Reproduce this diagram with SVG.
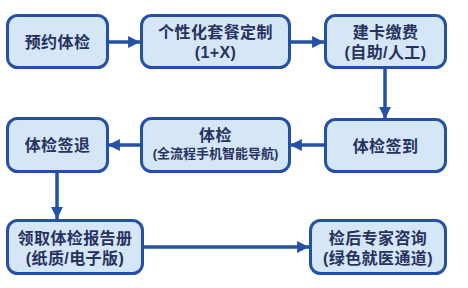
<svg xmlns="http://www.w3.org/2000/svg" width="468" height="288" viewBox="0 0 468 288">
<style>
.box{fill:#d5e6f6;stroke:#2450a6;stroke-width:3}
.t{font-family:"Liberation Sans","Noto Sans CJK SC",sans-serif;font-weight:bold;fill:#27325f;text-anchor:middle;dominant-baseline:central}
.l{font-size:16px;letter-spacing:0.4px}
.s{font-size:13px}
.c{stroke:#2450a6;stroke-width:3.5;fill:none}
</style>
<defs>
<marker id="ah" viewBox="0 0 10 10" refX="10" refY="5" markerWidth="3.4" markerHeight="3.4" orient="auto" markerUnits="strokeWidth">
<path d="M0,0 L10,5 L0,10 z" fill="#2450a6"/>
</marker>
</defs>
<rect width="468" height="288" fill="#ffffff"/>
<g id="connectors">
<line class="c" x1="108" y1="42" x2="140" y2="42" marker-end="url(#ah)"/>
<line class="c" x1="290" y1="42" x2="324" y2="42" marker-end="url(#ah)"/>
<line class="c" x1="385" y1="68" x2="385" y2="119" marker-end="url(#ah)"/>
<line class="c" x1="324" y1="145" x2="290" y2="145" marker-end="url(#ah)"/>
<line class="c" x1="141" y1="145" x2="108" y2="145" marker-end="url(#ah)"/>
<line class="c" x1="57" y1="172" x2="57" y2="219" marker-end="url(#ah)"/>
<line class="c" x1="143" y1="247" x2="309" y2="247" marker-end="url(#ah)"/>
</g>
<g id="n1">
<rect class="box" x="7.5" y="15.5" width="100" height="52" rx="10"/>
<text class="t l" x="57.5" y="42">预约体检</text>
</g>
<g id="n2">
<rect class="box" x="141.5" y="15.5" width="148" height="52" rx="10"/>
<text class="t l" x="215.5" y="32">个性化套餐定制</text>
<text class="t l" x="215.5" y="52">(1+X)</text>
</g>
<g id="n3">
<rect class="box" x="325.5" y="15.5" width="120" height="52" rx="10"/>
<text class="t l" x="385.5" y="32">建卡缴费</text>
<text class="t l" x="385.5" y="52">(自助/人工)</text>
</g>
<g id="n4">
<rect class="box" x="325.5" y="119.5" width="120" height="52" rx="10"/>
<text class="t l" x="385.5" y="146">体检签到</text>
</g>
<g id="n5">
<rect class="box" x="141.5" y="118.5" width="148" height="53" rx="10"/>
<text class="t l" x="215.5" y="135">体检</text>
<text class="t s" x="215.5" y="153">(全流程手机智能导航)</text>
</g>
<g id="n6">
<rect class="box" x="7.5" y="118.5" width="100" height="53" rx="10"/>
<text class="t l" x="57.5" y="145">体检签退</text>
</g>
<g id="n7">
<rect class="box" x="7.5" y="220.5" width="135" height="53" rx="10"/>
<text class="t l" x="75" y="238">领取体检报告册</text>
<text class="t l" x="75" y="258">(纸质/电子版)</text>
</g>
<g id="n8">
<rect class="box" x="310.5" y="220.5" width="135" height="53" rx="10"/>
<text class="t l" x="378" y="238">检后专家咨询</text>
<text class="t l" x="378" y="258">(绿色就医通道)</text>
</g>
</svg>
